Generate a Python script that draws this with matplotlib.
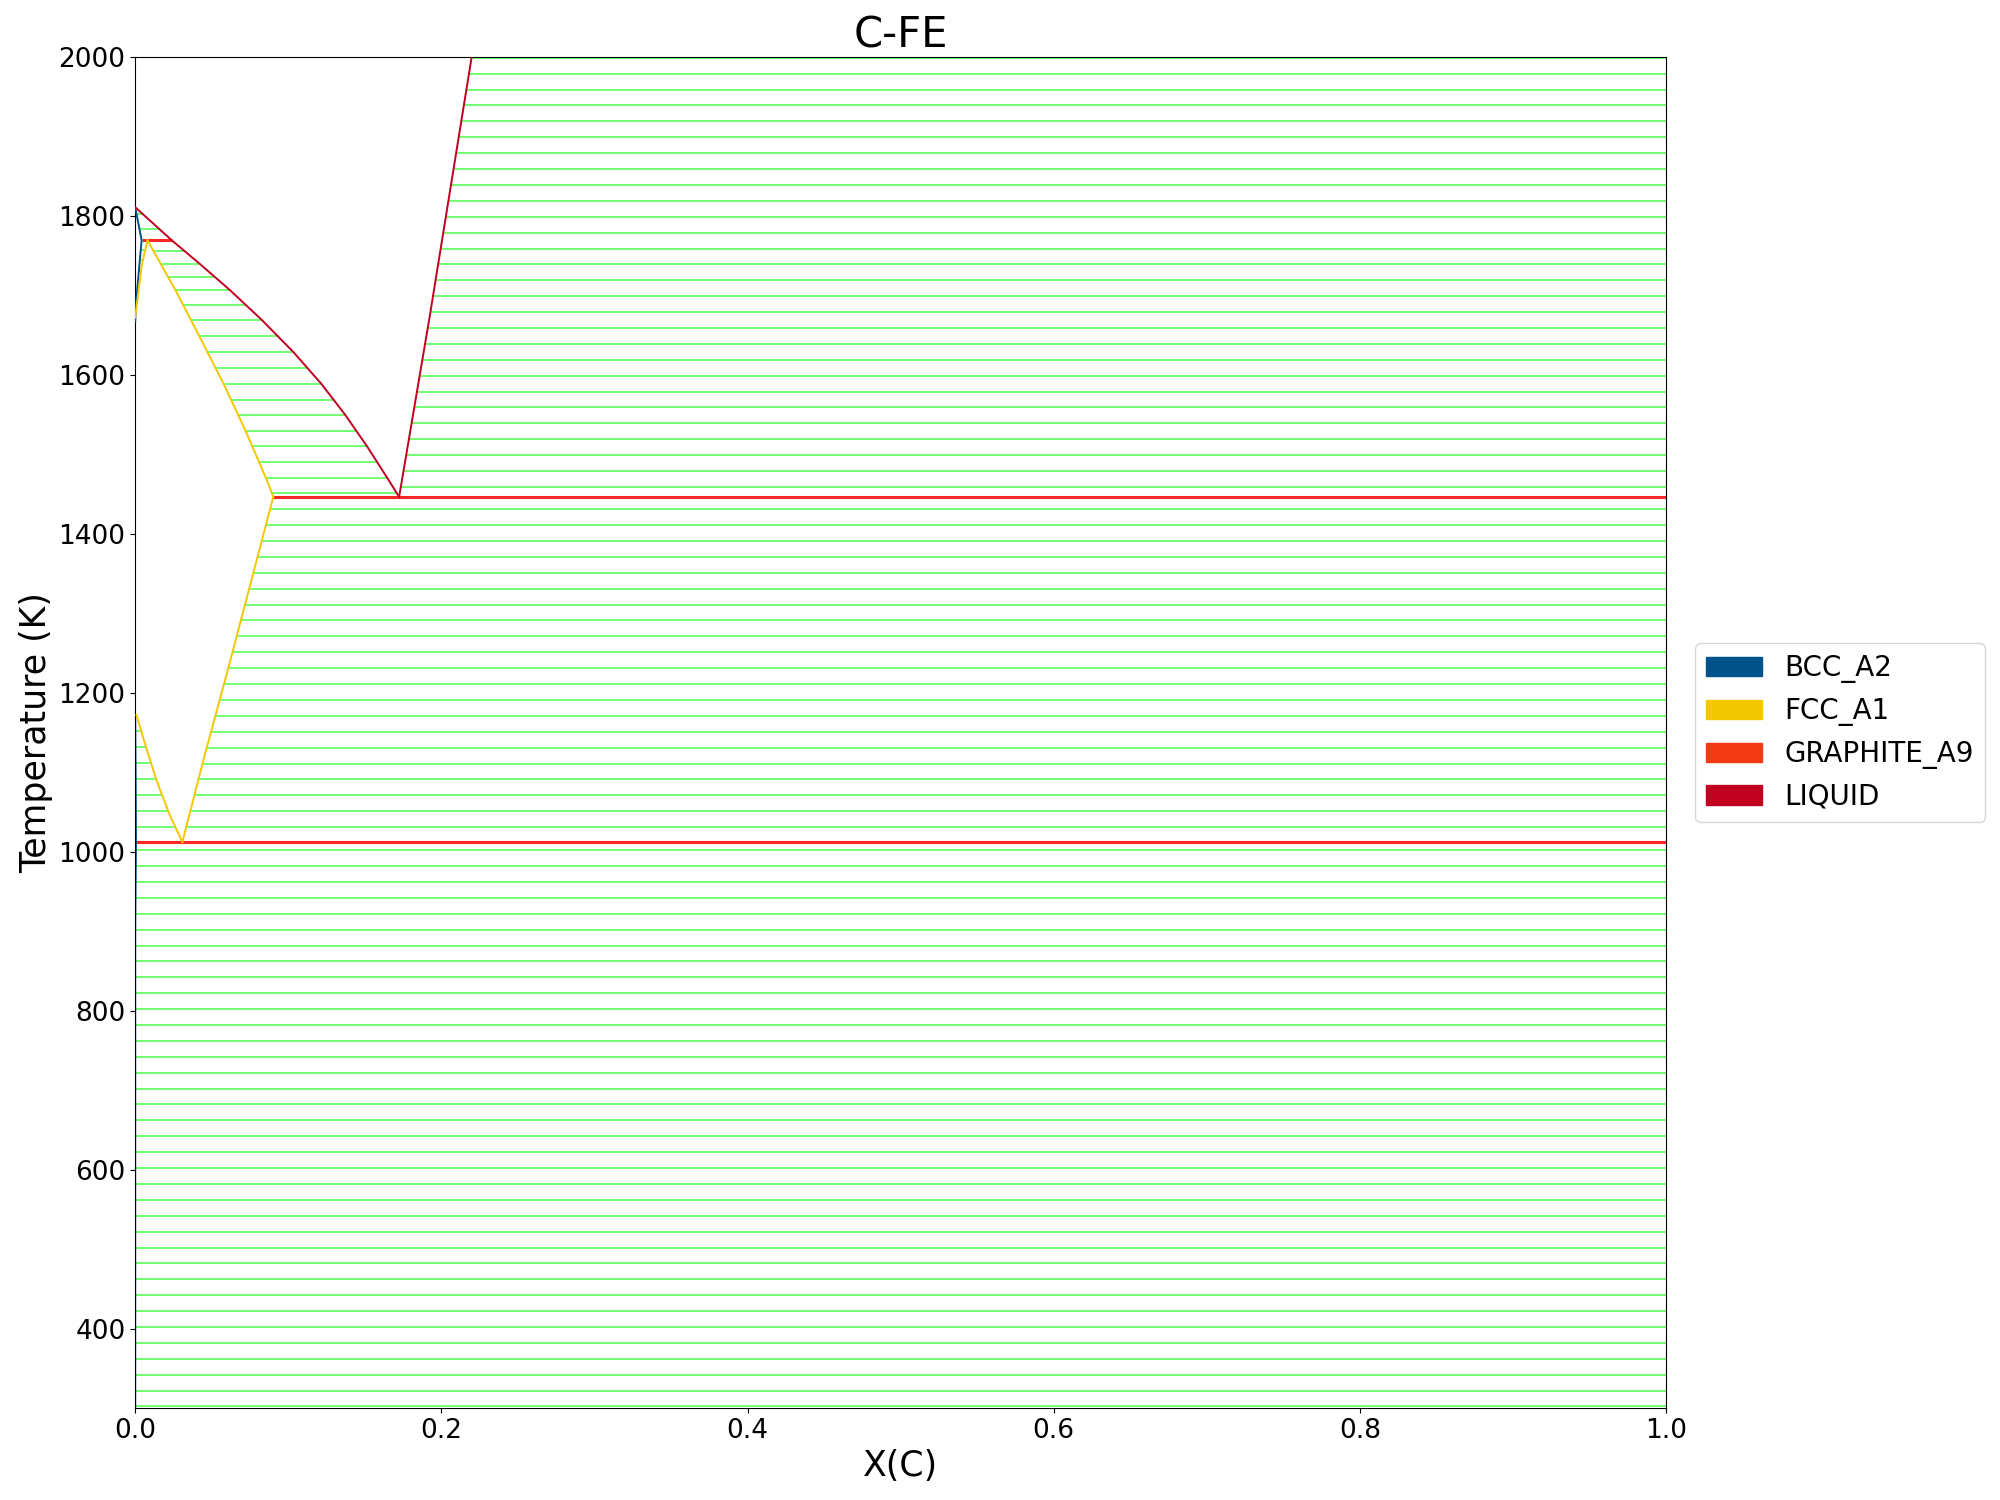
#!/usr/bin/env python
# -*- coding: utf-8 -*-
"""
C-Fe binary phase diagram, redrawn from read-off boundary points.
"""

import numpy as np
import matplotlib
matplotlib.use("Agg")
import matplotlib.pyplot as plt
from matplotlib.patches import Patch

# ─────────── PHASES / COLOURS ──────────────────────────────────────────────
PHASES = ["BCC_A2", "FCC_A1", "GRAPHITE_A9", "LIQUID"]
PHASE_COLORS = ["#00538A", "#F4C800", "#F13A13", "#C10020"]

# ─────────── PHASE BOUNDARIES  (X(C), T in K) ──────────────────────────────
# liquidus, Fe side (L / L+FCC, L / L+BCC)
LIQ_FE_X = [0.0, 0.0238, 0.0420, 0.0617, 0.0828, 0.1032, 0.1215,
            0.1371, 0.1515, 0.1648, 0.1724]
LIQ_FE_T = [1811, 1769.5, 1740, 1707, 1669, 1629, 1589,
            1550, 1510, 1470, 1446.5]

# liquidus, graphite side (L / L+graphite)
LIQ_C_X = [0.1724, 0.1926, 0.2198]
LIQ_C_T = [1446.5, 1676, 2000]

# FCC solidus (FCC / FCC+L)
FCC_SOL_X = [0.0080, 0.0262, 0.0418, 0.0577, 0.0720, 0.0857, 0.0902]
FCC_SOL_T = [1769.5, 1707, 1649, 1589, 1530, 1469, 1446.5]

# FCC / FCC+graphite (Acm)
FCC_GRA_X = [0.0902, 0.0772, 0.0608, 0.0441, 0.0308]
FCC_GRA_T = [1446.5, 1351, 1231, 1112, 1012]

# FCC / FCC+BCC, low temperature (A3)
FCC_A3_X = [0.0008, 0.0071, 0.0140, 0.0223, 0.0308]
FCC_A3_T = [1172, 1131.5, 1089.5, 1047.5, 1012]

# FCC / FCC+BCC, delta side
FCC_A4_X = [0.0, 0.0042, 0.0080]
FCC_A4_T = [1672, 1737, 1769.5]

# BCC delta ferrite
BCC_D_X = [0.0, 0.0042, 0.0005, 0.0]
BCC_D_T = [1811, 1769.5, 1690, 1667]

# BCC alpha ferrite
BCC_A_X = [0.0, 0.0003, 0.0005, 0.0, 0.0]
BCC_A_T = [1172, 1090, 1012, 900, 300]

# invariant reactions: (T, x_left, x_right)
INV_T  = [1769.5, 1446.5, 1012]
INV_X0 = [0.0042, 0.0902, 0.0005]
INV_X1 = [0.0238, 1.0, 1.0]

# ─────────── TIE-LINE TEMPERATURES ─────────────────────────────────────────
TIE_BCC_GRA = list(range(302, 1003, 20))
TIE_BCC_FCC = [1031, 1051, 1071, 1091, 1112, 1132, 1152]
TIE_FCC_GRA = list(range(1031, 1432, 20))
TIE_FCC_LIQ = [1451, 1470, 1490, 1510, 1530, 1550, 1569, 1589, 1609,
               1629, 1649, 1669, 1688, 1707, 1723, 1740, 1756]
TIE_LIQ_GRA = list(range(1459, 2000, 20))
TIE_BCC_LIQ = [1783, 1802]
TIE_DEL_FCC = [1690, 1704, 1718, 1731, 1744, 1757]

TIE_COLOR = (0.0, 1.0, 0.0, 0.65)
# ────────────────────────────────────────────────────────────────────────────


def x_at(t, xs, ts):
    """x of a boundary branch at temperature(s) t."""
    ts = np.asarray(ts, float)
    xs = np.asarray(xs, float)
    order = np.argsort(ts)
    return np.interp(t, ts[order], xs[order])


def ties(ax, temps, left, right):
    temps = np.asarray(temps, float)
    x0 = left(temps) if callable(left) else np.full_like(temps, left)
    x1 = right(temps) if callable(right) else np.full_like(temps, right)
    ax.hlines(temps, x0, x1, colors=[TIE_COLOR], lw=1.2, zorder=1)


def main():
    fig = plt.figure(figsize=(20, 15), dpi=100)
    ax = fig.add_axes([0.0676, 0.0613, 0.7654, 0.9007])

    # tie-lines
    ties(ax, TIE_BCC_GRA, lambda t: x_at(t, BCC_A_X[2:], BCC_A_T[2:]), 1.0)
    ties(ax, TIE_BCC_FCC, lambda t: x_at(t, BCC_A_X[:3], BCC_A_T[:3]),
         lambda t: x_at(t, FCC_A3_X, FCC_A3_T))
    ties(ax, TIE_FCC_GRA, lambda t: x_at(t, FCC_GRA_X, FCC_GRA_T), 1.0)
    ties(ax, TIE_FCC_LIQ, lambda t: x_at(t, FCC_SOL_X, FCC_SOL_T),
         lambda t: x_at(t, LIQ_FE_X, LIQ_FE_T))
    ties(ax, TIE_LIQ_GRA, lambda t: x_at(t, LIQ_C_X, LIQ_C_T), 1.0)
    ties(ax, TIE_BCC_LIQ, lambda t: x_at(t, BCC_D_X[:2], BCC_D_T[:2]),
         lambda t: x_at(t, LIQ_FE_X, LIQ_FE_T))
    ties(ax, TIE_DEL_FCC, lambda t: x_at(t, BCC_D_X[1:], BCC_D_T[1:]),
         lambda t: x_at(t, FCC_A4_X, FCC_A4_T))

    # invariant lines
    ax.hlines(INV_T, INV_X0, INV_X1, colors="red", lw=2.2, alpha=0.85, zorder=2)

    # phase boundaries
    c_bcc, c_fcc, c_gra, c_liq = PHASE_COLORS
    lw = 1.4
    ax.plot(BCC_D_X, BCC_D_T, color=c_bcc, lw=lw, zorder=3)
    ax.plot(BCC_A_X, BCC_A_T, color=c_bcc, lw=lw, zorder=2)
    ax.plot(FCC_A4_X, FCC_A4_T, color=c_fcc, lw=lw, zorder=3)
    ax.plot(FCC_SOL_X, FCC_SOL_T, color=c_fcc, lw=lw, zorder=3)
    ax.plot(FCC_GRA_X, FCC_GRA_T, color=c_fcc, lw=lw, zorder=3)
    ax.plot(FCC_A3_X, FCC_A3_T, color=c_fcc, lw=lw, zorder=3)
    ax.plot(LIQ_FE_X, LIQ_FE_T, color=c_liq, lw=lw, zorder=3)
    ax.plot(LIQ_C_X, LIQ_C_T, color=c_liq, lw=lw, zorder=3)

    ax.set_xlim(0, 1)
    ax.set_ylim(300, 2000)
    ax.set_title("C-FE", fontsize=30)
    ax.set_xlabel("X(C)", fontsize=25)
    ax.set_ylabel("Temperature (K)", fontsize=25)
    ax.tick_params(labelsize=19)

    handles = [Patch(facecolor=c, edgecolor=c) for c in PHASE_COLORS]
    ax.legend(handles, PHASES, loc="center left", bbox_to_anchor=(1.01, 0.5),
              fontsize=20)

    fig.savefig("out.png", dpi=100)
    plt.close(fig)


if __name__ == "__main__":
    main()
